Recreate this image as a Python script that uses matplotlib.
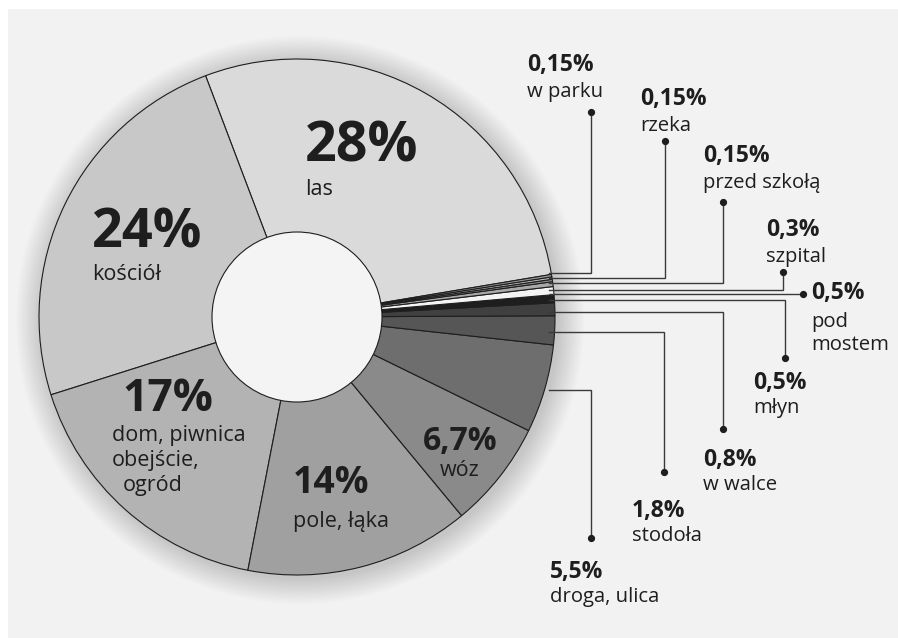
import matplotlib
matplotlib.use('Agg')
import matplotlib.pyplot as plt
from matplotlib.patches import Rectangle, Circle

plt.rcParams['font.family'] = ['Open Sans', 'DejaVu Sans']

# ---------------- data ----------------
categories = ['las', 'kościół', 'dom, piwnica\nobejście,\nogród', 'pole, łąka', 'wóz',
              'droga, ulica', 'stodoła', 'w walce', 'młyn', 'pod\nmostem', 'szpital',
              'przed szkołą', 'rzeka', 'w parku']
values = [28, 24, 17, 14, 6.7, 5.5, 1.8, 0.8, 0.5, 0.5, 0.3, 0.15, 0.15, 0.15]
colors = ['#dadada', '#c8c8c8', '#b3b3b3', '#a0a0a0', '#8a8a8a', '#6e6e6e', '#565656',
          '#404040', '#1e1e1e', '#f4f4f4', '#a8a8a8', '#8c8c8c', '#b8b8b8', '#9c9c9c']
pct_labels = [f"{v:g}".replace('.', ',') + '%' for v in values]

# ---------------- layout (pixels, top-down) ----------------
W, H = 898, 638
def Y(y):
    return H - y

CX, CY, R, R_IN = 297, 317, 258, 85
START = 9.5
TXT = '#1e1e1e'
LINE = '#3a3a3a'

# inner labels: index -> (x, pct baseline, name baselines, ha, pct size, name x list)
inner = {
    0: (305, 162, [195], 'left', 40, None),
    1: (92, 247, [280], 'left', 39, None),
    2: (122, 411, [441, 466, 491], 'left', 32, [112, 112, 123]),
    3: (293, 493, [527], 'left', 27, None),
    4: (460, 450, [476], 'center', 23, None),
}
# outer labels: index -> (hline y, vline x, dot y, text x, pct baseline, name baselines)
outer = {
    13: (273, 591, 112, 527, 71, [97]),
    12: (278, 665, 141, 640, 105, [131]),
    11: (283, 723, 202, 703, 162, [188]),
    10: (290, 783, 272, 766, 236, [262]),
    9:  (294, 803, None, 811, 299, [327, 350]),
    8:  (300, 785, 358, 753, 389, [413]),
    7:  (312, 723, 429, 703, 466, [490]),
    6:  (332, 664, 472, 632, 517, [541]),
    5:  (390, 591, 538, 550, 578, [602]),
}
LINE_X0 = 549

fig = plt.figure(figsize=(W / 100, H / 100), dpi=100, facecolor='white')
ax = fig.add_axes([0, 0, 1, 1])

ax.add_patch(Rectangle((8, 0), W - 8, H - 9, facecolor='#f2f2f2', edgecolor='none', zorder=0))
for k in range(22):
    ax.add_patch(Circle((CX + 3, Y(CY) - 3), R + 1 + k * 1.2, facecolor='black',
                        alpha=0.006, edgecolor='none', zorder=0.5))

wedges, _ = ax.pie(values, colors=colors, startangle=START, counterclock=True,
                   center=(CX, Y(CY)), radius=R, normalize=True,
                   wedgeprops=dict(edgecolor='#1e1e1e', linewidth=0.8, zorder=2))
ax.add_patch(Circle((CX, Y(CY)), R_IN, facecolor='#f4f4f4', edgecolor='#1e1e1e',
                    linewidth=0.8, zorder=3))

# inner labels
for i, (x, pb, nbs, ha, size, nxs) in inner.items():
    ax.text(x, Y(pb), pct_labels[i], fontsize=size, fontweight='bold', color=TXT,
            ha=ha, va='baseline', zorder=5)
    lines = categories[i].split('\n')
    for j, line in enumerate(lines):
        nx = nxs[j] if nxs else x
        ax.text(nx, Y(nbs[j]), line, fontsize=15.5, color=TXT, ha=ha, va='baseline', zorder=5)

# outer labels with leader lines
for i, (hy, vx, dy, tx, pb, nbs) in outer.items():
    if dy is None:
        ax.plot([LINE_X0, vx], [Y(hy), Y(hy)], color=LINE, lw=1.0, zorder=4,
                solid_capstyle='butt')
        ax.plot([vx], [Y(hy)], 'o', color=TXT, ms=4.2, zorder=4)
    else:
        ax.plot([LINE_X0, vx, vx], [Y(hy), Y(hy), Y(dy)], color=LINE, lw=1.0, zorder=4,
                solid_joinstyle='miter')
        ax.plot([vx], [Y(dy)], 'o', color=TXT, ms=4.2, zorder=4)
    ax.text(tx, Y(pb), pct_labels[i], fontsize=16.5, fontweight='bold', color=TXT,
            ha='left', va='baseline', zorder=5)
    for j, line in enumerate(categories[i].split('\n')):
        ax.text(tx, Y(nbs[j]), line, fontsize=14.6, color=TXT, ha='left', va='baseline', zorder=5)

ax.set_xlim(0, W)
ax.set_ylim(0, H)
ax.set_aspect('auto')
ax.axis('off')

fig.savefig('out.png', dpi=100, facecolor='white')
